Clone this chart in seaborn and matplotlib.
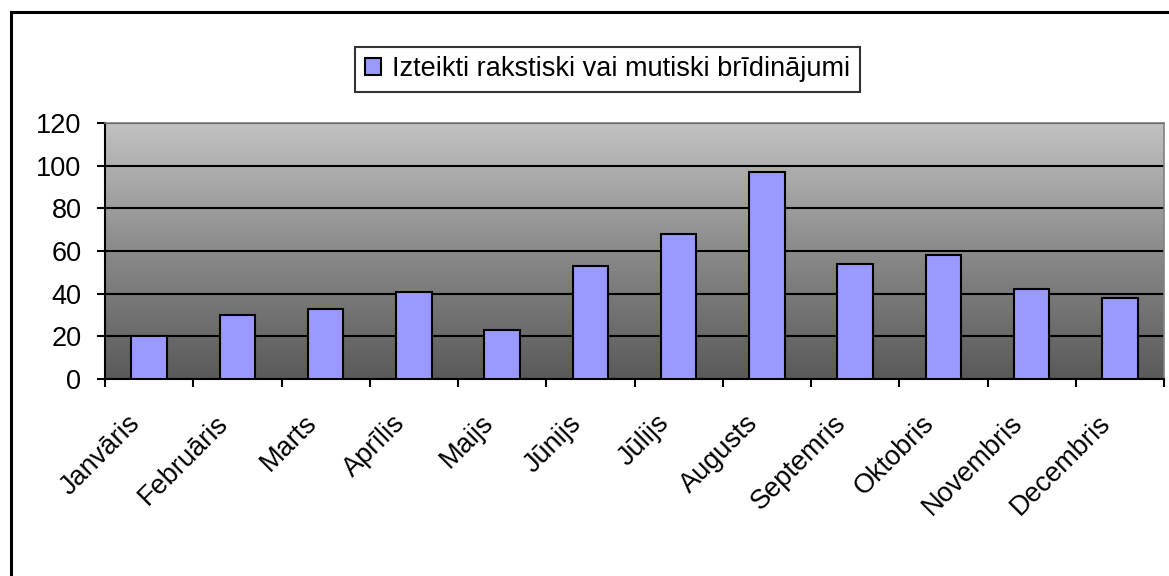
import matplotlib
matplotlib.use("Agg")
import matplotlib.pyplot as plt
import numpy as np
import pandas as pd
import seaborn as sns
from matplotlib.colors import LinearSegmentedColormap
from matplotlib.patches import Rectangle
from matplotlib.transforms import ScaledTranslation

MONTHS = ["Janvāris", "Februāris", "Marts", "Aprīlis", "Maijs", "Jūnijs",
          "Jūlijs", "Augusts", "Septemris", "Oktobris", "Novembris", "Decembris"]
WARNINGS = [20, 30, 33, 41, 23, 53, 68, 97, 54, 58, 42, 38]
SERIES = "Izteikti rakstiski vai mutiski brīdinājumi"
Y_TICKS = [0, 20, 40, 60, 80, 100, 120]

BAR_COLOR = "#9999FF"
FONT_SIZE = 19.5

sns.set_style("white")
plt.rcParams["font.family"] = ["Liberation Sans", "DejaVu Sans"]
plt.rcParams["text.color"] = "black"
plt.rcParams["xtick.color"] = "black"
plt.rcParams["ytick.color"] = "black"

df = pd.DataFrame({"month": MONTHS, "value": WARNINGS, "series": SERIES})

fig = plt.figure(figsize=(11.69, 5.76), dpi=100)
ax = fig.add_axes([105 / 1169, 1 - 379 / 576, (1164 - 105) / 1169, (379 - 123) / 576])

# grey gradient background of the plot area (light top, dark bottom)
grad_cmap = LinearSegmentedColormap.from_list("bg", ["#5a5a5a", "#8a8a8a", "#c2c2c2"])
grad = np.linspace(0, 1, 256).reshape(-1, 1)
ax.imshow(grad, extent=(-0.5, 11.5, 0, 120), origin="lower", aspect="auto",
          cmap=grad_cmap, zorder=0)

sns.barplot(data=df, x="month", y="value", hue="series", palette=[BAR_COLOR],
            saturation=1, width=0.4, edgecolor="black", linewidth=1.5,
            ax=ax, zorder=3)

ax.set_xlim(-0.5, 11.5)
ax.set_ylim(0, 120)
ax.set_yticks(Y_TICKS)
ax.set_xlabel("")
ax.set_ylabel("")
ax.yaxis.grid(True, color="black", linewidth=1.5, zorder=1)
ax.xaxis.grid(False)

ax.set_xticks(range(len(MONTHS)))
ax.set_xticks(np.arange(-0.5, 12, 1), minor=True)
ax.set_xticklabels(MONTHS, rotation=45, ha="right", va="center",
                   rotation_mode="anchor", fontsize=FONT_SIZE)
ax.tick_params(axis="x", which="major", length=0, pad=29)
ax.tick_params(axis="x", which="minor", bottom=True, length=6, width=1.5,
               color="black", direction="out")
ax.tick_params(axis="y", left=True, length=6, width=1.5, color="black",
               direction="out", pad=11, labelsize=FONT_SIZE)

# nudge month labels a little to the left, like the original
shift = ScaledTranslation(-13 / 100, 0, fig.dpi_scale_trans)
for lbl in ax.get_xticklabels():
    lbl.set_transform(lbl.get_transform() + shift)

for side in ["left", "bottom"]:
    ax.spines[side].set_color("black")
    ax.spines[side].set_linewidth(1.5)
for side in ["top", "right"]:
    ax.spines[side].set_color("#808080")
    ax.spines[side].set_linewidth(1.2)

leg = ax.legend(loc="center", bbox_to_anchor=(0.5197, 0.880),
                bbox_transform=fig.transFigure, fontsize=FONT_SIZE,
                frameon=True, fancybox=False, edgecolor="black",
                handlelength=0.6, handleheight=0.6, handletextpad=0.4,
                borderpad=0.35)
leg.get_frame().set_linewidth(1.5)

# outer chart border, running off the right and bottom of the image
fig.patches.append(Rectangle((11 / 1169, -0.1), 1.2, 1.0 + 0.1 - 12.5 / 576,
                             transform=fig.transFigure, fill=False,
                             edgecolor="black", linewidth=2.2))

fig.savefig("out.png", dpi=100)
